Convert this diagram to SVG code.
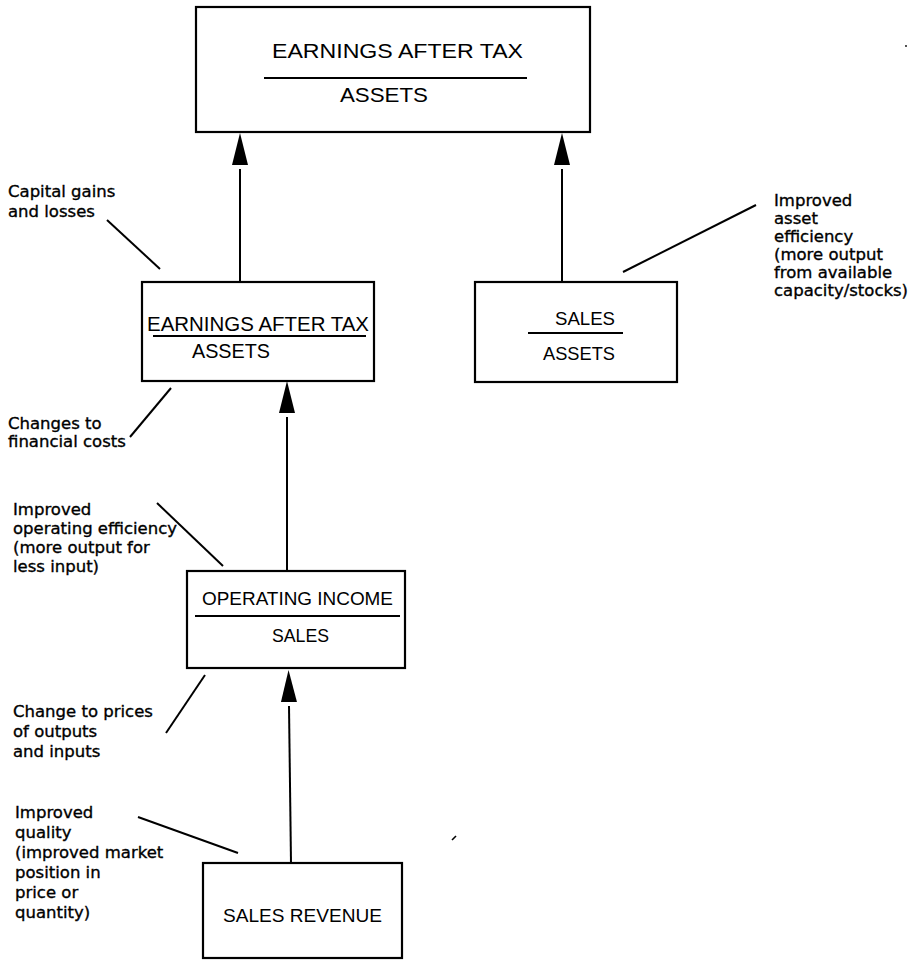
<svg xmlns="http://www.w3.org/2000/svg" width="917" height="962" viewBox="0 0 917 962">
<style>
.box{fill:#fff;stroke:#000;stroke-width:2.2}
.t{font-family:"Liberation Sans",Arial,sans-serif;fill:#000}
.lbl{font-family:"DejaVu Sans","Liberation Sans",sans-serif;font-size:16.5px;fill:#000;stroke:#000;stroke-width:0.35}
.ln{stroke:#000;stroke-width:2;fill:none}
.frac{stroke:#000;stroke-width:2}
</style>
<defs>
<marker id="ah" markerUnits="userSpaceOnUse" markerWidth="40" markerHeight="20" viewBox="0 -10 40 20" refX="0" refY="0" orient="auto">
<path d="M4,-8 L36,0 L4,8 Z" fill="#000"/>
</marker>
</defs>
<rect width="917" height="962" fill="#fff"/>

<g id="node-top-eat-assets">
<rect class="box" x="196" y="7" width="394" height="125"/>
<text class="t" x="272" y="58" font-size="21" textLength="251" lengthAdjust="spacingAndGlyphs">EARNINGS AFTER TAX</text>
<line class="frac" x1="264" y1="78" x2="527" y2="78"/>
<text class="t" x="340" y="102" font-size="21" textLength="88" lengthAdjust="spacingAndGlyphs">ASSETS</text>
</g>

<g id="node-mid-eat-assets">
<rect class="box" x="142" y="282" width="232" height="99"/>
<text class="t" x="147" y="331" font-size="19.5" textLength="222" lengthAdjust="spacingAndGlyphs">EARNINGS AFTER TAX</text>
<line class="frac" x1="153" y1="336" x2="366" y2="336"/>
<text class="t" x="192" y="358" font-size="19.5" textLength="78" lengthAdjust="spacingAndGlyphs">ASSETS</text>
</g>

<g id="node-sales-assets">
<rect class="box" x="475" y="282" width="202" height="100"/>
<text class="t" x="555" y="325" font-size="19" textLength="60" lengthAdjust="spacingAndGlyphs">SALES</text>
<line class="frac" x1="528" y1="333" x2="623" y2="333"/>
<text class="t" x="543" y="360" font-size="19" textLength="72" lengthAdjust="spacingAndGlyphs">ASSETS</text>
</g>

<g id="node-opinc-sales">
<rect class="box" x="187" y="571" width="218" height="97"/>
<text class="t" x="202" y="605" font-size="19" textLength="191" lengthAdjust="spacingAndGlyphs">OPERATING INCOME</text>
<line class="frac" x1="195" y1="616" x2="400" y2="616"/>
<text class="t" x="272" y="642" font-size="19" textLength="57" lengthAdjust="spacingAndGlyphs">SALES</text>
</g>

<g id="node-sales-revenue">
<rect class="box" x="203" y="863" width="199" height="95"/>
<text class="t" x="223" y="922" font-size="19" textLength="159" lengthAdjust="spacingAndGlyphs">SALES REVENUE</text>
</g>

<g id="connectors">
<line class="ln" x1="240" y1="282" x2="240" y2="169" marker-end="url(#ah)"/>
<line class="ln" x1="562" y1="282" x2="562" y2="169" marker-end="url(#ah)"/>
<line class="ln" x1="287" y1="571" x2="287" y2="417" marker-end="url(#ah)"/>
<line class="ln" x1="291" y1="863" x2="289" y2="706" marker-end="url(#ah)"/>
<line class="ln" x1="107" y1="220" x2="160" y2="269"/>
<line class="ln" x1="130" y1="437" x2="171" y2="388"/>
<line class="ln" x1="157" y1="503" x2="223" y2="566"/>
<line class="ln" x1="205" y1="675" x2="166" y2="733"/>
<line class="ln" x1="138" y1="817" x2="238" y2="853"/>
<line class="ln" x1="623" y1="272" x2="756" y2="205"/>
</g>

<g id="scan-marks">
<line x1="452" y1="840" x2="456" y2="836" stroke="#000" stroke-width="1.6"/>
<circle cx="906" cy="46" r="0.9" fill="#000"/>
</g>

<g id="label-capital-gains">
<text class="lbl" x="8" y="197">Capital gains</text>
<text class="lbl" x="8" y="217">and losses</text>
</g>
<g id="label-financial-costs">
<text class="lbl" x="8" y="429">Changes to</text>
<text class="lbl" x="8" y="447">financial costs</text>
</g>
<g id="label-operating-efficiency">
<text class="lbl" x="13" y="515">Improved</text>
<text class="lbl" x="13" y="534">operating efficiency</text>
<text class="lbl" x="13" y="553">(more output for</text>
<text class="lbl" x="13" y="572">less input)</text>
</g>
<g id="label-prices">
<text class="lbl" x="13" y="717">Change to prices</text>
<text class="lbl" x="13" y="737">of outputs</text>
<text class="lbl" x="13" y="757">and inputs</text>
</g>
<g id="label-quality">
<text class="lbl" x="15" y="818">Improved</text>
<text class="lbl" x="15" y="838">quality</text>
<text class="lbl" x="15" y="858">(improved market</text>
<text class="lbl" x="15" y="878">position in</text>
<text class="lbl" x="15" y="898">price or</text>
<text class="lbl" x="15" y="918">quantity)</text>
</g>
<g id="label-asset-efficiency">
<text class="lbl" x="774" y="206">Improved</text>
<text class="lbl" x="774" y="224">asset</text>
<text class="lbl" x="774" y="242">efficiency</text>
<text class="lbl" x="774" y="260">(more output</text>
<text class="lbl" x="774" y="278">from available</text>
<text class="lbl" x="774" y="296">capacity/stocks)</text>
</g>
</svg>
